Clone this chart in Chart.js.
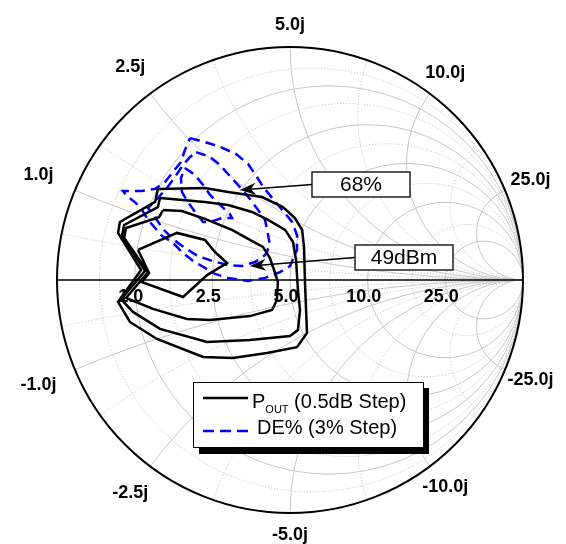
<!DOCTYPE html>
<html>
<head>
<meta charset="utf-8">
<script src="https://cdn.jsdelivr.net/npm/chart.js@4.4.0/dist/chart.umd.min.js"></script>
<style>
  html, body { margin: 0; padding: 0; background: #fff; }
  #wrap { width: 566px; height: 544px; }
</style>
</head>
<body>
<div id="wrap"><canvas id="smith" width="566" height="544"></canvas></div>
<script>
// load-pull contours as reflection coefficient [re, im], Z0 = 5 ohm
const z0 = 5;

// Pout contours, 0.5dB step (outer -> inner)
const pout1 = [[-0.567,0.391],[-0.365,0.395],[-0.266,0.378],[-0.120,0.356],[-0.030,0.313],[0.021,0.266],[0.052,0.215],[0.060,0.142],[0.064,0],[0.069,-0.129],[0.073,-0.227],[0.030,-0.288],[-0.099,-0.313],[-0.245,-0.335],[-0.373,-0.330],[-0.571,-0.253],[-0.687,-0.180],[-0.738,-0.094],[-0.639,0.043],[-0.738,0.202],[-0.730,0.249],[-0.579,0.335]];
const pout2 = [[-0.558,0.352],[-0.365,0.335],[-0.266,0.322],[-0.163,0.292],[-0.094,0.258],[-0.021,0.215],[0.013,0.163],[0.026,0.086],[0.034,-0.043],[0.043,-0.129],[0.034,-0.215],[0,-0.240],[-0.172,-0.258],[-0.356,-0.266],[-0.558,-0.210],[-0.674,-0.137],[-0.725,-0.082],[-0.622,0.039],[-0.721,0.189],[-0.712,0.236],[-0.567,0.313]];
const pout3 = [[-0.545,0.300],[-0.464,0.296],[-0.365,0.262],[-0.249,0.215],[-0.172,0.172],[-0.116,0.142],[-0.086,0.094],[-0.064,0.030],[-0.052,-0.009],[-0.056,-0.086],[-0.077,-0.129],[-0.172,-0.155],[-0.343,-0.172],[-0.442,-0.167],[-0.588,-0.124],[-0.704,-0.077],[-0.609,0.034],[-0.712,0.180],[-0.704,0.223],[-0.562,0.270]];
const pout4 = [[-0.652,0.129],[-0.485,0.202],[-0.365,0.172],[-0.322,0.120],[-0.270,0.073],[-0.356,0.021],[-0.459,-0.073],[-0.635,-0.009],[-0.605,0.030]];

// drain efficiency contours, 3% step (outer -> inner)
const de1 = [[-0.429,0.609],[-0.365,0.592],[-0.300,0.571],[-0.232,0.541],[-0.180,0.498],[-0.142,0.442],[-0.112,0.395],[-0.069,0.343],[-0.026,0.292],[0.009,0.249],[0.030,0.193],[0.030,0.129],[0,0.060],[-0.043,0.034],[-0.107,0.009],[-0.180,-0.004],[-0.266,0.009],[-0.322,0.026],[-0.365,0.052],[-0.416,0.082],[-0.464,0.120],[-0.506,0.163],[-0.549,0.189],[-0.579,0.223],[-0.609,0.258],[-0.635,0.300],[-0.661,0.330],[-0.700,0.361],[-0.717,0.382],[-0.635,0.382],[-0.579,0.391],[-0.536,0.421],[-0.506,0.459],[-0.468,0.506],[-0.451,0.558]];
const de2 = [[-0.403,0.549],[-0.343,0.528],[-0.300,0.494],[-0.258,0.446],[-0.215,0.399],[-0.172,0.348],[-0.137,0.300],[-0.107,0.258],[-0.094,0.193],[-0.086,0.150],[-0.107,0.107],[-0.150,0.077],[-0.206,0.060],[-0.266,0.064],[-0.335,0.082],[-0.395,0.103],[-0.438,0.129],[-0.481,0.159],[-0.515,0.189],[-0.549,0.223],[-0.579,0.270],[-0.609,0.309],[-0.567,0.352],[-0.528,0.395],[-0.494,0.442],[-0.459,0.494],[-0.429,0.528]];
const de3 = [[-0.451,0.481],[-0.408,0.451],[-0.373,0.408],[-0.343,0.365],[-0.300,0.322],[-0.258,0.283],[-0.249,0.266],[-0.292,0.266],[-0.343,0.249],[-0.373,0.249],[-0.408,0.292],[-0.438,0.335],[-0.464,0.378],[-0.468,0.438]];

// smith grid (normalised r and x)
const rMajor = [0.2, 0.5, 1, 2, 5];
const xMajor = [0.2, 0.5, 1, 2, 5];
const rMinor = [0.1, 0.32, 0.71, 1.41, 3.2];
const xMinor = [0.1, 0.32, 0.71, 1.41, 3.2];

// callout arrows: text and the point (gamma) they point at
const calloutText = ['68%', '49dBm'];
const calloutTip = [[-0.215, 0.386], [-0.172, 0.060]];

// page geometry (pixels)
const CX = 290, CY = 280, R = 233, W = 566, H = 544;
const calloutBox = [{x: 312, y: 172, w: 98, h: 25}, {x: 355, y: 245, w: 98, h: 25}];

const FONT = '"Liberation Sans", Arial, Helvetica, sans-serif';

const toXY = pts => pts.concat([pts[0]]).map(p => ({x: p[0], y: p[1]}));

const lineSet = (pts, dashed) => ({
  data: toXY(pts),
  showLine: true,
  pointRadius: 0,
  borderColor: dashed ? '#0000ff' : '#000000',
  borderWidth: 2.5,
  borderDash: dashed ? [10, 6] : [],
  tension: 0,
  fill: false
});

const smithGrid = {
  id: 'smithGrid',
  beforeDraw(chart) {
    const ctx = chart.ctx;
    ctx.save();
    ctx.fillStyle = '#fff';
    ctx.fillRect(0, 0, chart.width, chart.height);
    ctx.restore();
  },
  beforeDatasetsDraw(chart) {
    const {ctx, scales: {x, y}} = chart;
    const px = v => x.getPixelForValue(v), py = v => y.getPixelForValue(v);
    const rad = px(1) - px(0);
    const cx = px(0), cy = py(0);
    const circle = (gx, gy, gr) => {
      ctx.beginPath();
      ctx.arc(px(gx), py(gy), Math.abs(gr) * rad, 0, 2 * Math.PI);
      ctx.stroke();
    };

    ctx.save();
    ctx.beginPath();
    ctx.arc(cx, cy, rad, 0, 2 * Math.PI);
    ctx.clip();

    ctx.lineWidth = 1;
    ctx.strokeStyle = '#b8b8b8';
    ctx.setLineDash([1, 2]);
    rMinor.forEach(r => circle(r / (1 + r), 0, 1 / (1 + r)));
    xMinor.forEach(v => { circle(1, 1 / v, 1 / v); circle(1, -1 / v, 1 / v); });

    ctx.setLineDash([]);
    ctx.strokeStyle = '#c6c6c6';
    rMajor.forEach(r => circle(r / (1 + r), 0, 1 / (1 + r)));
    xMajor.forEach(v => { circle(1, 1 / v, 1 / v); circle(1, -1 / v, 1 / v); });
    ctx.restore();

    // real axis and outer circle
    ctx.save();
    ctx.strokeStyle = '#000';
    ctx.lineWidth = 1.5;
    ctx.beginPath();
    ctx.moveTo(px(-1), cy);
    ctx.lineTo(px(1), cy);
    ctx.stroke();
    ctx.lineWidth = 2;
    ctx.beginPath();
    ctx.arc(cx, cy, rad, 0, 2 * Math.PI);
    ctx.stroke();

    // labels
    ctx.fillStyle = '#000';
    ctx.font = 'bold 18px ' + FONT;
    ctx.textAlign = 'center';
    ctx.textBaseline = 'middle';
    rMajor.forEach(r => {
      const g = (r - 1) / (r + 1);
      ctx.fillText((r * z0).toFixed(1), px(g) - 4, cy + 17);
    });
    xMajor.forEach(v => {
      [1, -1].forEach(s => {
        const th = Math.PI - 2 * Math.atan(v);
        const c = Math.cos(th);
        const rho = rad + 22 + (c < 0 ? 19 : 6) * Math.abs(c);
        const lx = cx + rho * c, ly = cy - s * rho * Math.sin(th);
        ctx.fillText((s < 0 ? '-' : '') + (v * z0).toFixed(1) + 'j', lx, ly);
      });
    });
    ctx.restore();
  },
  afterDatasetsDraw(chart) {
    const {ctx, scales: {x, y}} = chart;

    // callouts
    ctx.save();
    calloutText.forEach((t, i) => {
      const b = calloutBox[i];
      const tx = x.getPixelForValue(calloutTip[i][0]);
      const ty = y.getPixelForValue(calloutTip[i][1]);
      const sx = b.x, sy = b.y + b.h / 2;
      const a = Math.atan2(ty - sy, tx - sx);
      ctx.strokeStyle = '#000';
      ctx.lineWidth = 1.5;
      ctx.beginPath();
      ctx.moveTo(sx, sy);
      ctx.lineTo(tx - 10 * Math.cos(a), ty - 10 * Math.sin(a));
      ctx.stroke();
      ctx.fillStyle = '#000';
      ctx.beginPath();
      ctx.moveTo(tx, ty);
      ctx.lineTo(tx - 16 * Math.cos(a) + 6 * Math.sin(a), ty - 16 * Math.sin(a) - 6 * Math.cos(a));
      ctx.lineTo(tx - 11 * Math.cos(a), ty - 11 * Math.sin(a));
      ctx.lineTo(tx - 16 * Math.cos(a) - 6 * Math.sin(a), ty - 16 * Math.sin(a) + 6 * Math.cos(a));
      ctx.closePath();
      ctx.fill();

      ctx.fillStyle = '#fff';
      ctx.fillRect(b.x, b.y, b.w, b.h);
      ctx.strokeStyle = '#222';
      ctx.lineWidth = 1.5;
      ctx.strokeRect(b.x, b.y, b.w, b.h);
      ctx.fillStyle = '#000';
      ctx.font = '21px ' + FONT;
      ctx.textAlign = 'center';
      ctx.textBaseline = 'middle';
      ctx.fillText(t, b.x + b.w / 2, b.y + b.h / 2 + 1);
    });

    // legend box with drop shadow
    const lx = 193, ly = 382, lw = 230, lh = 65;
    ctx.fillStyle = '#000';
    ctx.fillRect(lx + 6, ly + 6, lw, lh + 1);
    ctx.fillStyle = '#fff';
    ctx.fillRect(lx, ly, lw, lh);
    ctx.strokeStyle = '#000';
    ctx.lineWidth = 1;
    ctx.strokeRect(lx + 0.5, ly + 0.5, lw, lh);

    ctx.lineWidth = 2.5;
    ctx.strokeStyle = '#000';
    ctx.beginPath();
    ctx.moveTo(203, 398);
    ctx.lineTo(248, 398);
    ctx.stroke();
    ctx.strokeStyle = '#0000ff';
    ctx.setLineDash([11, 6]);
    ctx.beginPath();
    ctx.moveTo(203, 431);
    ctx.lineTo(250, 431);
    ctx.stroke();
    ctx.setLineDash([]);

    ctx.fillStyle = '#000';
    ctx.textAlign = 'left';
    ctx.textBaseline = 'alphabetic';
    let cur = 252;
    ctx.font = '20px ' + FONT;
    ctx.fillText('P', cur, 408);
    cur += ctx.measureText('P').width;
    ctx.font = '11px ' + FONT;
    ctx.fillText('OUT', cur, 413);
    cur += ctx.measureText('OUT').width;
    ctx.font = '20px ' + FONT;
    ctx.fillText(' (0.5dB Step)', cur, 408);
    ctx.fillText('DE% (3% Step)', 257, 434);
    ctx.restore();
  }
};

new Chart(document.getElementById('smith'), {
  type: 'scatter',
  data: {
    datasets: [
      lineSet(pout1, false),
      lineSet(pout2, false),
      lineSet(pout3, false),
      lineSet(pout4, false),
      lineSet(de1, true),
      lineSet(de2, true),
      lineSet(de3, true)
    ]
  },
  options: {
    responsive: false,
    animation: false,
    devicePixelRatio: 1,
    layout: { padding: 0 },
    plugins: { legend: { display: false }, tooltip: { enabled: false } },
    scales: {
      x: { type: 'linear', min: -CX / R, max: (W - CX) / R, display: false },
      y: { type: 'linear', min: -(H - CY) / R, max: CY / R, display: false }
    }
  },
  plugins: [smithGrid]
});
</script>
</body>
</html>
